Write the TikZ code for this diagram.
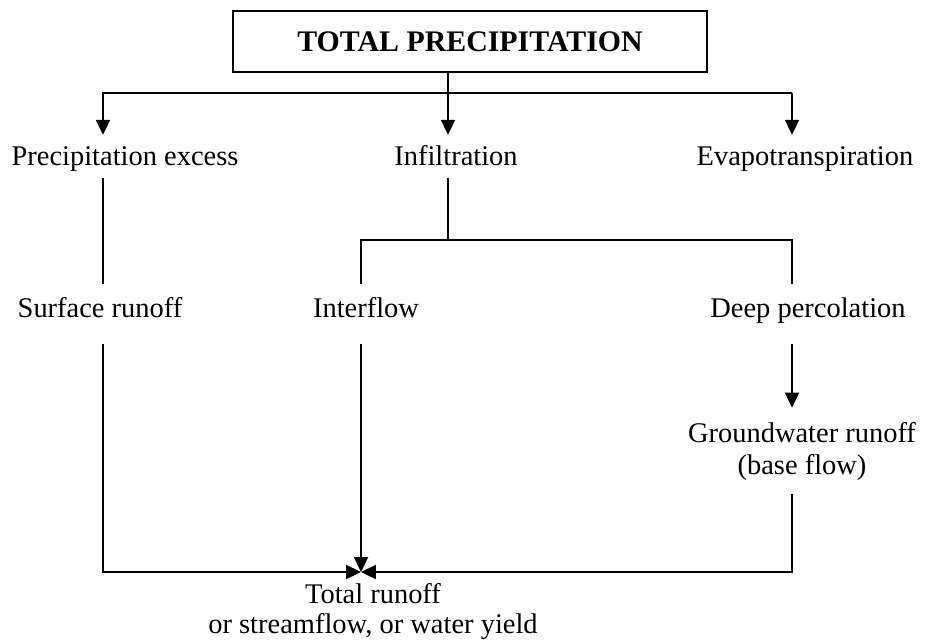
\documentclass[tikz,border=0pt]{standalone}
\usepackage{fontspec}
\setmainfont{Liberation Serif}
\usetikzlibrary{arrows.meta}

\tikzset{
    label/.style={font=\fontsize{16.2pt}{18.2pt}\selectfont, inner sep=3pt, anchor=base},
    term/.style={label, text height=14pt, text depth=4pt},
    lowterm/.style={label, text height=15.5pt, text depth=12pt},
    flow/.style={line width=1pt, -{Triangle[length=8.5pt,width=8pt]}},
    link/.style={line width=1pt}
}

\begin{document}
\begin{tikzpicture}[x=0.02cm, y=-0.02cm]
        \useasboundingbox (0,0) rectangle (925,642);
        \node[draw, line width=1pt, minimum width=9.48cm, minimum height=1.22cm,
              font=\fontsize{17pt}{20pt}\selectfont\bfseries] (total) at (470,41.5) {TOTAL PRECIPITATION};

        \node[term] (excess) at (125,165) {Precipitation excess};
        \node[term] (infil) at (456,165) {Infiltration};
        \node[term] (evapo) at (805,165) {Evapotranspiration};

        \node[lowterm] (surf) at (100,317) {Surface runoff};
        \node[lowterm] (inter) at (366,317) {Interflow};
        \node[lowterm] (deep) at (808,317) {Deep percolation};

        \node[label, align=center, inner ysep=8pt] (ground) at (802,474) {Groundwater runoff\\(base flow)};
        \node[label, align=center, font=\fontsize{16.2pt}{17pt}\selectfont] (runoff) at (373,633) {Total runoff\\or streamflow, or water yield};

        \coordinate (cL) at (103,93);
        \coordinate (cM) at (448,93);
        \coordinate (cR) at (792,93);
        \coordinate (fork) at (448,240);
        \coordinate (meet) at (361,572);

        % split of the precipitation
        \draw[flow] (total.south -| cM) -- (infil.north -| cM);
        \draw[flow] (cR) -| (excess.north -| cL);
        \draw[flow] (cR) -- (evapo.north -| cR);

        % infiltration branches
        \draw[link] (infil.south -| fork) -- (fork);
        \draw[link] (inter.north -| meet) -- (meet |- fork) -- (fork -| cR) -- (deep.north -| cR);
        \draw[link] (excess.south -| cL) -- (surf.north -| cL);
        \draw[flow] (deep.south -| cR) -- (ground.north -| cR);

        % runoff into the total
        \draw[flow] (surf.south -| cL) |- (meet);
        \draw[flow] (inter.south -| meet) -- (meet);
        \draw[flow] (ground.south -| cR) |- (meet);
\end{tikzpicture}
\end{document}
